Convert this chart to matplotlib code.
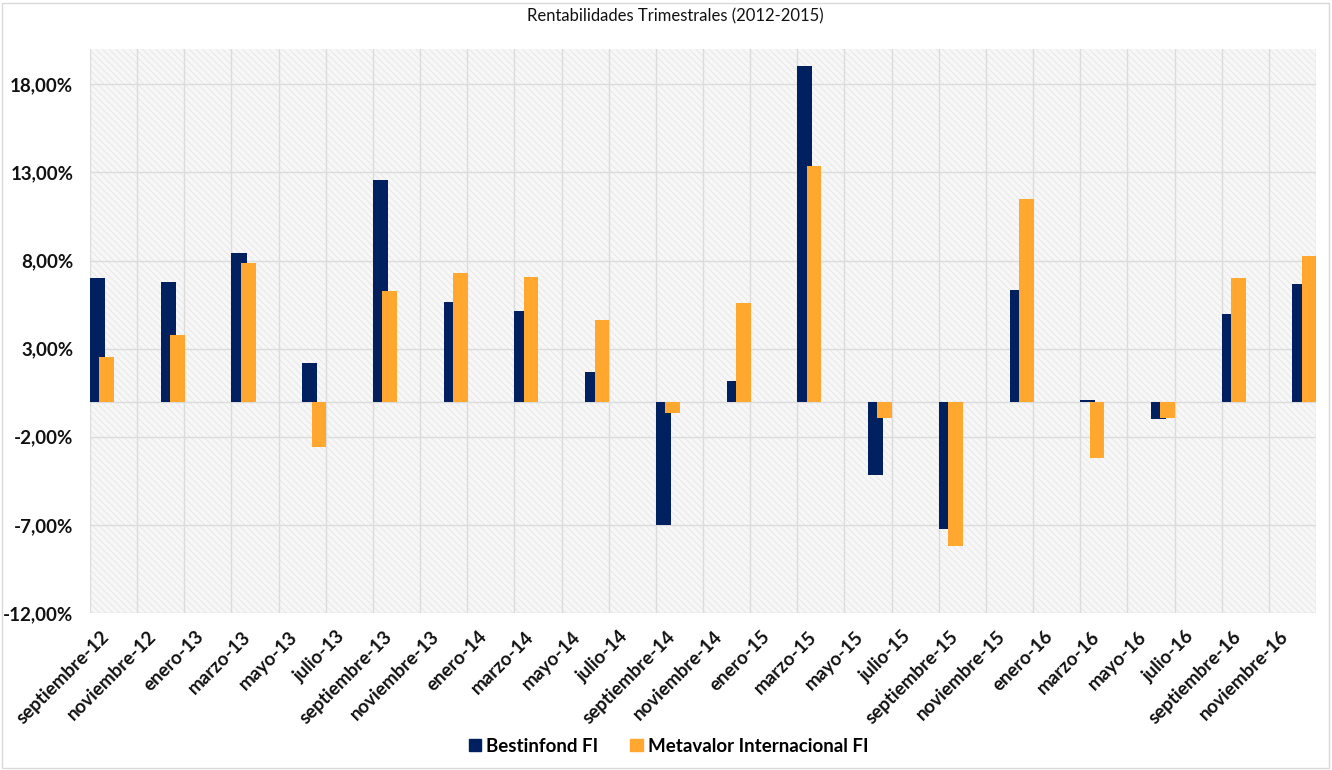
import numpy as np
import matplotlib
matplotlib.use("Agg")
import matplotlib.pyplot as plt
from matplotlib.patches import Rectangle, Patch

plt.rcParams['font.family'] = ['Lato', 'DejaVu Sans']
plt.rcParams['hatch.linewidth'] = 0.5

# quarterly data (month of each bar, values in %)
quarters = ['2012-09', '2012-12', '2013-03', '2013-06', '2013-09', '2013-12',
            '2014-03', '2014-06', '2014-09', '2014-12', '2015-03', '2015-06',
            '2015-09', '2015-12', '2016-03', '2016-06', '2016-09', '2016-12']
bestinfond = [7.03, 6.77, 8.45, 2.21, 12.57, 5.65, 5.11, 1.67, -7.03,
              1.19, 19.04, -4.18, -7.24, 6.35, 0.10, -1.00, 4.97, 6.64]
metavalor = [2.50, 3.78, 7.87, -2.59, 6.28, 7.28, 7.07, 4.65, -0.66,
             5.58, 13.37, -0.96, -8.20, 11.50, -3.20, -0.92, 7.02, 8.28]

tick_labels = ['septiembre-12', 'noviembre-12', 'enero-13', 'marzo-13', 'mayo-13', 'julio-13',
               'septiembre-13', 'noviembre-13', 'enero-14', 'marzo-14', 'mayo-14', 'julio-14',
               'septiembre-14', 'noviembre-14', 'enero-15', 'marzo-15', 'mayo-15', 'julio-15',
               'septiembre-15', 'noviembre-15', 'enero-16', 'marzo-16', 'mayo-16', 'julio-16',
               'septiembre-16', 'noviembre-16']

series_names = ['Bestinfond FI', 'Metavalor Internacional FI']
navy = '#002060'
orange = '#FFA72F'
grid_c = '#DCDCDC'


def month_index(s):
    # months since septiembre-12
    y, m = s.split('-')
    return (int(y) - 2012) * 12 + int(m) - 9


x = np.array([month_index(q) for q in quarters], dtype=float)

fig = plt.figure(figsize=(13.32, 7.70), dpi=100)
ax = fig.add_axes([90 / 1332, 1 - 613 / 770, (1316 - 90) / 1332, (613 - 49) / 770])

# hatched plot area background
bg = Rectangle((0, 0), 1, 1, transform=ax.transAxes, facecolor='#F7F7F7',
               edgecolor='#E2E2E2', hatch='\\\\\\\\\\', lw=0, zorder=0)
ax.add_patch(bg)
ax.set_facecolor('none')

ax.bar(x, bestinfond, width=0.64, align='edge', color=navy, zorder=2)
ax.bar(x + 0.40, metavalor, width=0.62, align='edge', color=orange, zorder=3)

ax.set_xlim(0, 52)
ax.set_ylim(-12, 20)
yt = np.arange(-12, 19, 5)
ax.set_yticks(yt)
ax.set_yticklabels([f"{v:.2f}".replace('.', ',') + '%' for v in yt],
                   fontsize=13.5, fontweight='bold', color='#111111')

# labels sit a bit right of each 2-month gridline, like the Excel date axis
ax.set_xticks(np.arange(0, 52, 2) + 0.7)
ax.set_xticklabels(tick_labels, fontsize=13.5, fontweight='bold', color='#111111',
                   rotation=45, ha='right', va='center', rotation_mode='anchor')

# grid lines, vertical one at the right edge too
for gx in np.arange(0, 53, 2):
    ax.axvline(gx, color=grid_c, lw=1, zorder=1)
for gy in yt:
    ax.axhline(gy, color=grid_c, lw=1, zorder=1)
ax.axhline(0, color=grid_c, lw=1, zorder=1)

ax.tick_params(axis='both', length=0)
ax.tick_params(axis='y', pad=12)
ax.tick_params(axis='x', pad=15)
for sp in ax.spines.values():
    sp.set_visible(False)

fig.text(0.507, 1 - 16 / 770, 'Rentabilidades Trimestrales (2012-2015)',
         ha='center', va='center', fontsize=12, color='#111111')

handles = [Patch(color=navy), Patch(color=orange)]
fig.legend(handles, series_names, loc='center', bbox_to_anchor=(0.502, 1 - 746 / 770),
           ncol=2, frameon=False, handlelength=0.65, handleheight=0.65,
           handletextpad=0.3, columnspacing=1.7,
           prop={'size': 13.5, 'weight': 'bold'})

# light border around the chart area
fig.patches.append(Rectangle((2 / 1332, 2 / 770), 1 - 5 / 1332, 1 - 5 / 770,
                             transform=fig.transFigure, fill=False,
                             edgecolor='#D9D9D9', lw=1))

fig.savefig('out.png', dpi=100, facecolor='white')
